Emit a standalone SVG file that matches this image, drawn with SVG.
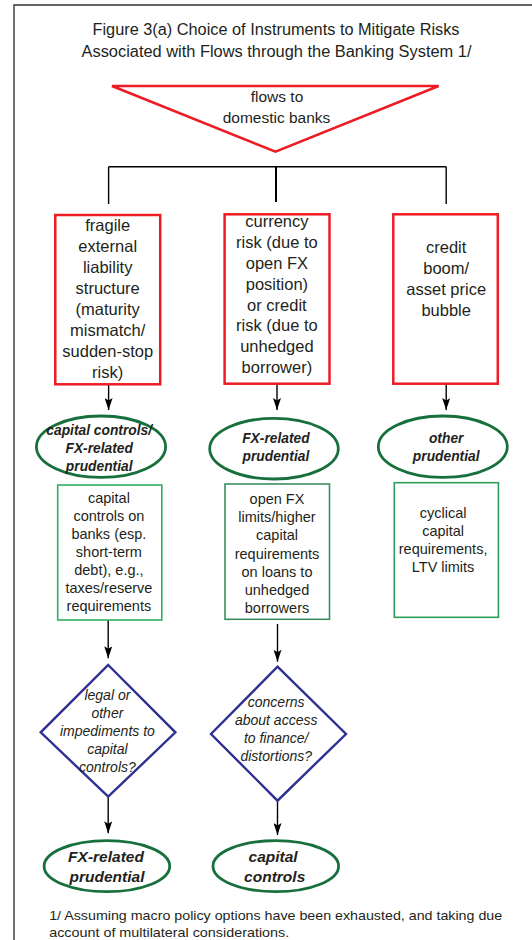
<svg xmlns="http://www.w3.org/2000/svg" width="532" height="940" viewBox="0 0 532 940">
  <style>
    text { font-family: "Liberation Sans", Arial, sans-serif; fill: #231f20; text-anchor: middle; }
    .title { font-size: 16px; }
    .risk { font-size: 16.5px; }
    .tool { font-size: 14.5px; }
    .pol { font-size: 13.8px; font-weight: bold; font-style: italic; }
    .final { font-size: 15.5px; font-weight: bold; font-style: italic; }
    .q { font-size: 14px; font-style: italic; }
    .note { font-size: 13.5px; text-anchor: start; }
    .redbox { fill: #fff; stroke: #ed1c24; stroke-width: 2.5; }
    .oval { fill: #fff; stroke: #17703c; stroke-width: 2.8; }
    .gbox { fill: #fff; stroke-width: 1.6; }
    .dia { fill: #fff; stroke: #2e3192; stroke-width: 2.4; }
    .wire { fill: none; stroke: #000; stroke-width: 1.4; }
    .arrow { fill: none; stroke: #000; stroke-width: 1.4; marker-end: url(#head); }
  </style>
  <defs>
    <marker id="head" viewBox="0 0 12 8" refX="12" refY="4" markerWidth="12" markerHeight="8" markerUnits="userSpaceOnUse" orient="auto">
      <path d="M0,0 L12,4 L0,8 L2.5,4 z" fill="#000"/>
    </marker>
  </defs>

  <rect width="532" height="940" fill="#fff"/>
  <!-- frame: only the top and left edges fall inside the page -->
  <path d="M14,940 V5 H532" fill="none" stroke="#333" stroke-width="1.4"/>

  <g id="title">
    <text class="title" x="276" y="35" textLength="367" lengthAdjust="spacingAndGlyphs">Figure 3(a) Choice of Instruments to Mitigate Risks</text>
    <text class="title" x="276.5" y="57" textLength="390" lengthAdjust="spacingAndGlyphs">Associated with Flows through the Banking System 1/</text>
  </g>

  <g id="connectors">
    <path class="wire" d="M108.6,166.7 H446.2 M108.6,166.7 V204 M446.2,166.7 V204"/>
    <path d="M276,166.7 V202" fill="none" stroke="#000" stroke-width="2"/>
    <path class="arrow" d="M108.6,384.5 V410"/>
    <path class="arrow" d="M277,384 V410"/>
    <path class="arrow" d="M446.2,384 V410"/>
    <path class="arrow" d="M108.2,620 V658.3"/>
    <path class="arrow" d="M277.5,624 V661.7"/>
    <path class="arrow" d="M108.2,796.7 V833.3"/>
    <path class="arrow" d="M277.5,800.7 V835"/>
  </g>

  <g id="flows">
    <polygon points="112,86 438.7,86 275.5,151.7" fill="#fff" stroke="#ed1c24" stroke-width="2.5" stroke-linejoin="miter"/>
    <text style="font-size:15.5px" x="277" y="101.7">flows to</text>
    <text style="font-size:15.5px" x="276.5" y="123.3">domestic banks</text>
  </g>

  <g id="risk-liability">
    <rect class="redbox" x="55.3" y="215" width="104.9" height="169.3"/>
    <text class="risk" x="107.7" y="230.7">fragile</text>
    <text class="risk" x="107.7" y="251.8">external</text>
    <text class="risk" x="107.7" y="272.9">liability</text>
    <text class="risk" x="107.7" y="294">structure</text>
    <text class="risk" x="107.7" y="315.1">(maturity</text>
    <text class="risk" x="107.7" y="336.2">mismatch/</text>
    <text class="risk" x="107.7" y="357.3">sudden-stop</text>
    <text class="risk" x="107.7" y="378.4">risk)</text>
  </g>

  <g id="risk-currency">
    <rect class="redbox" x="224.6" y="214.3" width="104.9" height="169.4"/>
    <text class="risk" x="276.9" y="226.7">currency</text>
    <text class="risk" x="276.9" y="247.6">risk (due to</text>
    <text class="risk" x="276.9" y="268.6">open FX</text>
    <text class="risk" x="276.9" y="289.5">position)</text>
    <text class="risk" x="276.9" y="310.5">or credit</text>
    <text class="risk" x="276.9" y="331.4">risk (due to</text>
    <text class="risk" x="276.9" y="352.4">unhedged</text>
    <text class="risk" x="276.9" y="373.3">borrower)</text>
  </g>

  <g id="risk-credit">
    <rect class="redbox" x="393.3" y="214.3" width="104.5" height="169.4"/>
    <text class="risk" x="446.2" y="253.3">credit</text>
    <text class="risk" x="446.2" y="274.1">boom/</text>
    <text class="risk" x="446.2" y="294.9">asset price</text>
    <text class="risk" x="446.2" y="315.7">bubble</text>
  </g>

  <g id="policy-capfx">
    <ellipse class="oval" cx="101" cy="446.7" rx="64.6" ry="30.7"/>
    <text class="pol" x="99.2" y="435">capital controls/</text>
    <text class="pol" x="99.2" y="453.3">FX-related</text>
    <text class="pol" x="99.2" y="470.7">prudential</text>
  </g>

  <g id="policy-fx">
    <ellipse class="oval" cx="274" cy="448.7" rx="64.3" ry="30.3"/>
    <text class="pol" x="275.9" y="442.7">FX-related</text>
    <text class="pol" x="275.9" y="461">prudential</text>
  </g>

  <g id="policy-other">
    <ellipse class="oval" cx="442.8" cy="446.7" rx="64.5" ry="30.7"/>
    <text class="pol" x="446.2" y="442.7">other</text>
    <text class="pol" x="446.2" y="461">prudential</text>
  </g>

  <g id="tool-capital">
    <rect class="gbox" x="57.7" y="485" width="104.1" height="135" stroke="#2fae62"/>
    <text class="tool" x="108.9" y="502.7">capital</text>
    <text class="tool" x="108.9" y="520.7">controls on</text>
    <text class="tool" x="108.9" y="538.7">banks (esp.</text>
    <text class="tool" x="108.9" y="556.7">short-term</text>
    <text class="tool" x="108.9" y="574.7">debt), e.g.,</text>
    <text class="tool" x="108.9" y="592.7">taxes/reserve</text>
    <text class="tool" x="108.9" y="610.7">requirements</text>
  </g>

  <g id="tool-fx">
    <rect class="gbox" x="225" y="484" width="104.5" height="135.3" stroke="#3b8f5e"/>
    <text class="tool" x="277" y="504">open FX</text>
    <text class="tool" x="277" y="522.2">limits/higher</text>
    <text class="tool" x="277" y="540.4">capital</text>
    <text class="tool" x="277" y="558.6">requirements</text>
    <text class="tool" x="277" y="576.8">on loans to</text>
    <text class="tool" x="277" y="595">unhedged</text>
    <text class="tool" x="277" y="613.2">borrowers</text>
  </g>

  <g id="tool-cyclical">
    <rect class="gbox" x="394.3" y="482.7" width="104.1" height="134.6" stroke="#2e9e5e"/>
    <text class="tool" x="443.1" y="518.3">cyclical</text>
    <text class="tool" x="443.1" y="536.3">capital</text>
    <text class="tool" x="443.1" y="554.3">requirements,</text>
    <text class="tool" x="443.1" y="572.3">LTV limits</text>
  </g>

  <g id="question-legal">
    <polygon class="dia" points="108.2,665 175.4,732.3 108.2,796.7 40.7,732.3"/>
    <text class="q" x="107.4" y="700">legal or</text>
    <text class="q" x="107.4" y="717.9">other</text>
    <text class="q" x="107.4" y="735.8">impediments to</text>
    <text class="q" x="107.4" y="753.7">capital</text>
    <text class="q" x="107.4" y="771.6">controls?</text>
  </g>

  <g id="question-access">
    <polygon class="dia" points="277.5,666.7 346,734 277.5,800.7 211,734"/>
    <text class="q" x="276.2" y="706.7">concerns</text>
    <text class="q" x="276.2" y="724.8">about access</text>
    <text class="q" x="276.2" y="742.9">to finance/</text>
    <text class="q" x="276.2" y="761">distortions?</text>
  </g>

  <g id="result-fx">
    <ellipse class="oval" cx="106.9" cy="866.2" rx="62.8" ry="25.5"/>
    <text class="final" x="106" y="861.7">FX-related</text>
    <text class="final" x="107" y="882.3">prudential</text>
  </g>

  <g id="result-capital">
    <ellipse class="oval" cx="275.8" cy="866.2" rx="62.8" ry="25.5"/>
    <text class="final" x="273.1" y="861.7">capital</text>
    <text class="final" x="274.7" y="882.3">controls</text>
  </g>

  <g id="footnote">
    <text class="note" x="49.2" y="920" textLength="453" lengthAdjust="spacingAndGlyphs">1/ Assuming macro policy options have been exhausted, and taking due</text>
    <text class="note" x="49.2" y="936.5" textLength="240" lengthAdjust="spacingAndGlyphs">account of multilateral considerations.</text>
  </g>
</svg>
